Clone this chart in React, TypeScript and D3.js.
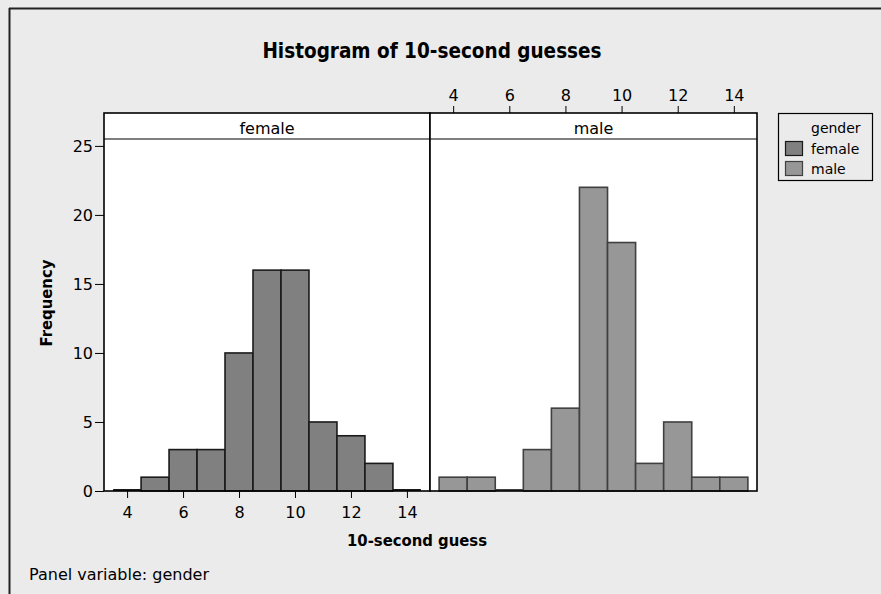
import * as d3 from "d3";
import { useEffect, useRef } from "react";

// bin centres (guess, seconds)
const bins = [4, 5, 6, 7, 8, 9, 10, 11, 12, 13, 14];
const femaleCounts = [0, 1, 3, 3, 10, 16, 16, 5, 4, 2, 0];
const maleCounts = [1, 1, 0, 3, 6, 22, 18, 2, 5, 1, 1];
const xTicks = [4, 6, 8, 10, 12, 14];
const yTicks = [0, 5, 10, 15, 20, 25];
const panels = ["female", "male"];

const W = 881;
const H = 594;
const FONT = "'DejaVu Sans', sans-serif";
const FONT_NARROW = "'DejaVu Sans Condensed', 'DejaVu Sans', sans-serif";

const App = () => {
  const ref = useRef<SVGSVGElement>(null);

  useEffect(() => {
    const svg = d3.select(ref.current);
    svg.selectAll("*").remove();

    // background + frame (top and left edges only)
    svg.append("rect").attr("width", W).attr("height", H).attr("fill", "#ebebeb");
    svg.append("line").attr("x1", 9).attr("x2", W).attr("y1", 8.5).attr("y2", 8.5)
      .attr("stroke", "#222").attr("stroke-width", 2);
    svg.append("line").attr("x1", 9.5).attr("x2", 9.5).attr("y1", 8).attr("y2", H)
      .attr("stroke", "#222").attr("stroke-width", 2);

    // title
    svg.append("text")
      .attr("x", 432)
      .attr("y", 58)
      .attr("text-anchor", "middle")
      .style("font-family", FONT_NARROW)
      .style("font-size", "20.5px")
      .style("font-weight", "bold")
      .text("Histogram of 10-second guesses");

    const plotTop = 139;
    const plotBottom = 491;
    const stripTop = 113;
    const panelEdges = [104, 430, 757];
    const fills = ["#808080", "#979797"];
    const strokes = ["#1a1a1a", "#404040"];

    const y = d3.scaleLinear().domain([0, 25.5]).range([plotBottom, plotTop]);

    panels.forEach((name, i) => {
      const x0 = panelEdges[i];
      const x1 = panelEdges[i + 1];
      const x = d3.scaleLinear().domain([3.175, 14.825]).range([x0, x1]);
      const counts = i === 0 ? femaleCounts : maleCounts;
      const g = svg.append("g");

      // plot area + strip
      g.append("rect").attr("x", x0).attr("y", plotTop).attr("width", x1 - x0)
        .attr("height", plotBottom - plotTop).attr("fill", "#fff");
      g.append("rect").attr("x", x0).attr("y", stripTop).attr("width", x1 - x0)
        .attr("height", plotTop - stripTop).attr("fill", "#fff");
      g.append("text")
        .attr("x", (x0 + x1) / 2)
        .attr("y", 134)
        .attr("text-anchor", "middle")
        .style("font-family", FONT)
        .style("font-size", "16px")
        .text(name);

      // bars
      g.selectAll("rect.bar")
        .data(bins)
        .join("rect")
        .attr("class", "bar")
        .attr("x", (d) => x(d - 0.5))
        .attr("y", (d, j) => y(counts[j]))
        .attr("width", (d) => x(d + 0.5) - x(d - 0.5))
        .attr("height", (d, j) => y(0) - y(counts[j]))
        .attr("fill", fills[i])
        .attr("stroke", strokes[i])
        .attr("stroke-width", 1.6);

      // zero bins: flat line on baseline
      g.selectAll("line.zero")
        .data(bins.filter((d, j) => counts[j] === 0))
        .join("line")
        .attr("class", "zero")
        .attr("x1", (d) => x(d - 0.5))
        .attr("x2", (d) => x(d + 0.5))
        .attr("y1", y(0) - 1)
        .attr("y2", y(0) - 1)
        .attr("stroke", strokes[i])
        .attr("stroke-width", 2);

      // borders
      g.append("rect").attr("x", x0).attr("y", stripTop).attr("width", x1 - x0)
        .attr("height", plotBottom - stripTop).attr("fill", "none")
        .attr("stroke", "#000").attr("stroke-width", 1.6);
      g.append("line").attr("x1", x0).attr("x2", x1).attr("y1", plotTop).attr("y2", plotTop)
        .attr("stroke", "#000").attr("stroke-width", 1.2);

      // x axis: bottom on female, top on male
      const axis = i === 0
        ? d3.axisBottom(x).tickValues(xTicks).tickSize(7).tickPadding(9)
        : d3.axisTop(x).tickValues(xTicks).tickSize(7).tickPadding(5);
      const ax = g.append("g")
        .attr("transform", `translate(0,${i === 0 ? plotBottom : stripTop})`)
        .call(axis);
      ax.select(".domain").remove();
      ax.selectAll("line").attr("stroke", "#000");
      ax.selectAll("text")
        .style("font-family", FONT)
        .style("font-size", "16px")
        .attr("fill", "#000");
    });

    // y axis
    const yAx = svg.append("g")
      .attr("transform", `translate(${panelEdges[0]},0)`)
      .call(d3.axisLeft(y).tickValues(yTicks).tickSize(9).tickPadding(2));
    yAx.select(".domain").remove();
    yAx.selectAll("line").attr("stroke", "#000");
    yAx.selectAll("text")
      .style("font-family", FONT)
      .style("font-size", "16px")
      .attr("fill", "#000");

    // axis titles
    svg.append("text")
      .attr("transform", "translate(52,303) rotate(-90)")
      .attr("text-anchor", "middle")
      .style("font-family", FONT_NARROW)
      .style("font-size", "16.5px")
      .style("font-weight", "bold")
      .text("Frequency");
    svg.append("text")
      .attr("x", 417)
      .attr("y", 546)
      .attr("text-anchor", "middle")
      .style("font-family", FONT_NARROW)
      .style("font-size", "16.5px")
      .style("font-weight", "bold")
      .text("10-second guess");

    svg.append("text")
      .attr("x", 29)
      .attr("y", 580)
      .style("font-family", FONT)
      .style("font-size", "16px")
      .text("Panel variable: gender");

    // legend
    const lg = svg.append("g");
    lg.append("rect").attr("x", 778.5).attr("y", 113.5).attr("width", 94).attr("height", 67)
      .attr("fill", "#ebebeb").attr("stroke", "#000").attr("stroke-width", 1.2);
    lg.append("text").attr("x", 811).attr("y", 133)
      .style("font-family", FONT).style("font-size", "14px").text("gender");
    panels.forEach((name, i) => {
      lg.append("rect").attr("x", 785.5).attr("y", 141.5 + i * 20).attr("width", 17).attr("height", 14)
        .attr("fill", fills[i]).attr("stroke", strokes[i]).attr("stroke-width", 1.2);
      lg.append("text").attr("x", 811).attr("y", 154 + i * 20)
        .style("font-family", FONT).style("font-size", "14px").text(name);
    });
  }, []);

  return (
    <svg
      ref={ref}
      width={W}
      height={H}
      style={{ position: "absolute", left: 0, top: 0 }}
    />
  );
};

export default App;
